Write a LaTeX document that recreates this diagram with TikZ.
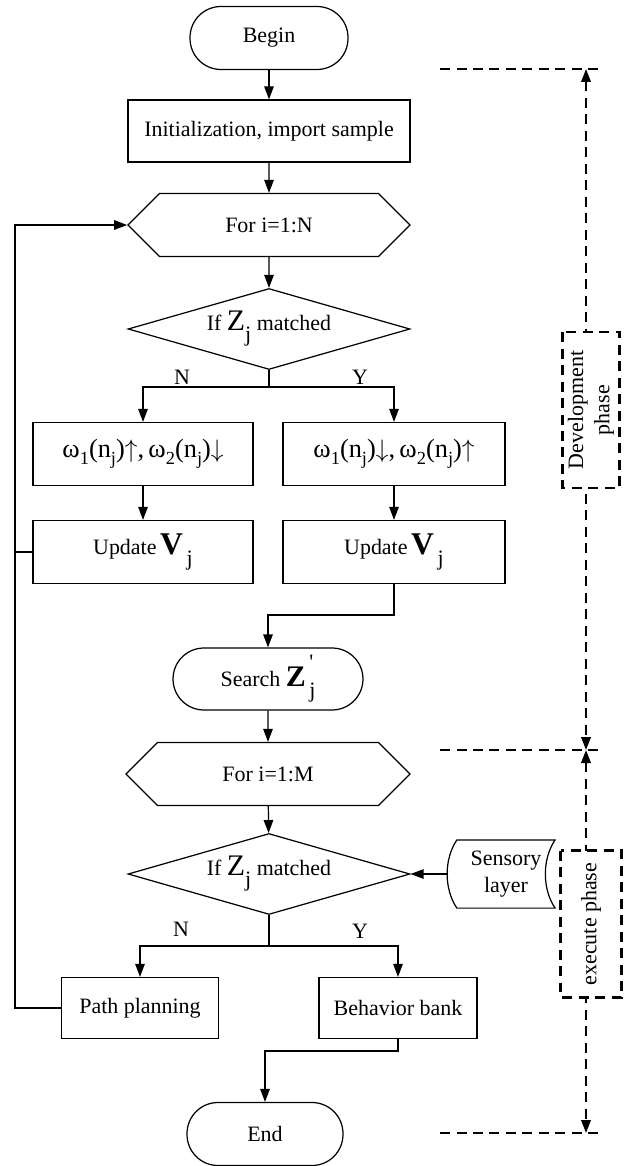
\documentclass[tikz,border=0pt]{standalone}
\usepackage{fontspec}
\setmainfont{Liberation Serif}
\usetikzlibrary{arrows.meta,shapes.geometric,shapes.symbols}

\newcommand{\bigZ}{{\fontsize{17}{17}\selectfont Z}}
\newcommand{\bigV}{{\fontsize{18}{18}\selectfont\bfseries V}}
\newcommand{\lowj}{\raisebox{-1.1ex}{j}}
\newcommand{\lowsub}[1]{\raisebox{-0.55ex}{\fontsize{10.5}{10.5}\selectfont #1}}

\begin{document}
\begin{tikzpicture}[x=0.02cm,y=-0.02cm,line width=0.7pt,
  every node/.style={font=\fontsize{12.5}{15}\selectfont},
  >={Triangle[length=0.26cm,width=0.19cm]},
  box/.style={draw,rectangle,inner sep=0pt,minimum height=1.26cm},
  weight/.style={box,font=\fontsize{15}{18}\selectfont},
  term/.style={draw,rectangle,rounded corners=0.62cm,minimum height=1.26cm},
  loopbox/.style={draw,signal,signal to=east and west,signal pointer angle=90,
    minimum width=5.64cm,minimum height=1.26cm,inner sep=0pt},
  test/.style={draw,diamond,aspect=3.5,minimum width=5.64cm,minimum height=1.62cm,inner sep=0pt},
  guide/.style={line width=1.2pt,dash pattern=on 0.2cm off 0.13cm},
  phase/.style={guide,draw,fill=white,rotate=90,align=center,inner sep=0pt}]
\useasboundingbox (0,0) rectangle (628,1166);

% main flow
\node[term,minimum width=3.16cm] (begin) at (269,38) {Begin};
\node[box,minimum width=5.64cm,minimum height=1.24cm] (init) at (269,131) {Initialization, import sample};
\node[loopbox] (forN) at (269,225) {For i=1:N};
\node[test] (test1) at (269,329) {If \bigZ\lowj\ matched};
\coordinate (split1) at (269,387);
\node (n1) at (182,377) {N};
\node (y1) at (360,377) {Y};
\node[weight,minimum width=4.4cm] (w1) at (143,454)
  {ω\lowsub{1}(n\lowsub{j})$\uparrow$,\,ω\lowsub{2}(n\lowsub{j})$\downarrow$};
\node[weight,minimum width=4.44cm] (w2) at (394,454)
  {ω\lowsub{1}(n\lowsub{j})$\downarrow$,\,ω\lowsub{2}(n\lowsub{j})$\uparrow$};
\node[box,minimum width=4.4cm] (up1) at (143,552) {Update\,\bigV\,\lowj};
\node[box,minimum width=4.44cm] (up2) at (394,552) {Update\,\bigV\,\lowj};
\coordinate (bend1) at (394,615);
\node[term,minimum width=3.8cm,minimum height=1.24cm] (search) at (268,679)
  {Search {\fontsize{17}{17}\selectfont\bfseries Z}\,\makebox[0pt][l]{\raisebox{1.7ex}{\textquotesingle}}\lowj};
\node[loopbox,minimum width=5.68cm] (forM) at (268,774) {For i=1:M};
\node[test] (test2) at (269,874) {If \bigZ\lowj\ matched};
\coordinate (split2) at (269,946);
\node (n2) at (181,929) {N};
\node (y2) at (360,931) {Y};
\node[box,minimum width=3.14cm,minimum height=1.22cm] (path) at (140,1008) {Path planning};
\node[box,minimum width=3.16cm,minimum height=1.22cm] (behav) at (398,1008) {Behavior bank};
\coordinate (bend2) at (398,1051);
\node[term,minimum width=3.12cm,minimum height=1.26cm] (end) at (265,1134) {End};
\coordinate (loopc) at (15,225);

% sensory input
\node[inner sep=0pt,minimum width=1.94cm,minimum height=1.34cm,align=center] (sens) at (506,874) {Sensory\\layer};
\draw (sens.north west) .. controls +(-13,19) and +(-13,-19) .. (sens.south west)
  -- (sens.south east) .. controls +(-13,-19) and +(-13,19) .. (sens.north east) -- cycle;

% connectors
\draw[->] (begin) -- (init);
\draw[->] (init) -- (forN);
\draw[->] (forN) -- (test1);
\draw (test1.south) -- (split1);
\draw[->] (split1) -| (w1);
\draw[->] (split1) -| (w2);
\draw[->] (w1) -- (up1);
\draw[->] (w2) -- (up2);
\draw[->] (up2.south) -- (bend1) -| (search.north);
\draw[->] (search) -- (forM);
\draw[->] (forM) -- (test2);
\draw (test2.south) -- (split2);
\draw[->] (split2) -| (path);
\draw[->] (split2) -| (behav);
\draw[->] (behav.south) -- (bend2) -| (end.north);
\draw[->] (path.west) -| (loopc) -- (forN.west);
\draw (up1.west) -- (up1.west -| loopc);
\draw[->] ([xshift=-0.2cm]sens.west) -- (test2.east);

% phases
\coordinate (ta) at (586,69);
\coordinate (tb) at (586,750);
\coordinate (tc) at (586,1133);
\draw[guide] (440,69) -- (598,69);
\draw[guide] (440,750) -- (598,750);
\draw[guide] (440,1133) -- (598,1133);
\draw[guide,<->] (ta) -- (tb);
\draw[guide,<->] (tb) -- (tc);
\node[phase,minimum width=3.12cm,minimum height=1.14cm] (dev) at (591,410) {Development\\phase};
\node[phase,minimum width=2.94cm,minimum height=1.22cm] (exec) at (591,924) {execute phase};
\end{tikzpicture}
\end{document}
